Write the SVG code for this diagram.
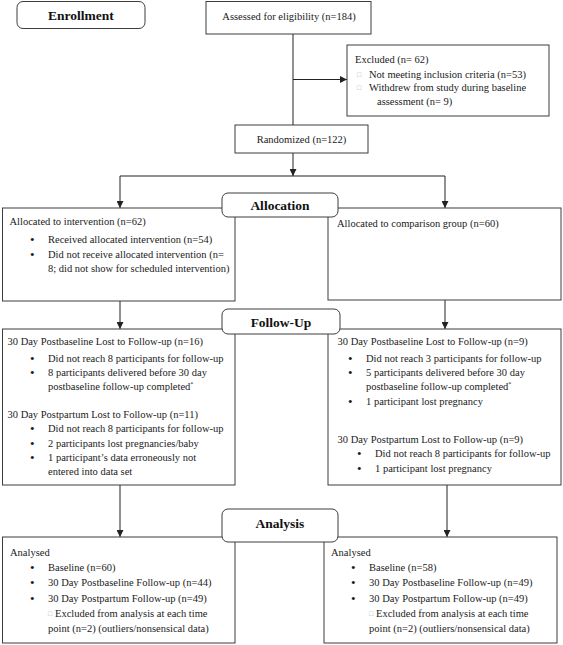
<svg xmlns="http://www.w3.org/2000/svg" width="563" height="645" viewBox="0 0 563 645">
<defs>
<marker id="arr" markerUnits="userSpaceOnUse" markerWidth="7" markerHeight="7" refX="7" refY="3.5" orient="auto">
<path d="M0,0 L7,3.5 L0,7 z" fill="#222"/>
</marker>
<style>
rect{fill:#fff;stroke:#3c3c3c;stroke-width:1}
.hd{rx:6px;ry:6px}
text{font-family:"Liberation Serif","Times New Roman",serif;font-size:10.5px;fill:#1a1a1a}
.b{font-weight:bold;font-size:13.5px;text-anchor:middle;fill:#111}
.c{text-anchor:middle}
.sq{fill:#aaa;font-size:7px}
.sup{font-size:6px}
.bu{font-size:13px}
#connectors line{stroke:#222;stroke-width:1;fill:none}
.a{marker-end:url(#arr)}
</style>
</defs>
<rect width="563" height="645" style="fill:#fff;stroke:none"/>
<g id="connectors">
<line x1="293" y1="34" x2="293" y2="125"/>
<line class="a" x1="293" y1="79.5" x2="347" y2="79.5"/>
<line class="a" x1="293" y1="153" x2="293" y2="176"/>
<line x1="120" y1="176" x2="445" y2="176"/>
<line class="a" x1="120" y1="176" x2="120" y2="208"/>
<line class="a" x1="445" y1="176" x2="445" y2="208"/>
<line class="a" x1="120" y1="301" x2="120" y2="329"/>
<line class="a" x1="445" y1="300" x2="445" y2="329"/>
<line class="a" x1="120" y1="485" x2="120" y2="537"/>
<line class="a" x1="447" y1="485" x2="447" y2="537"/>
</g>
<g id="assessed">
<rect x="206" y="1.5" width="165" height="32.5"/>
<text class="c" x="289" y="20">Assessed for eligibility (n=184)</text>
</g>
<g id="excluded">
<rect x="347" y="45" width="202" height="71"/>
<text x="355" y="63">Excluded (n= 62)</text>
<text class="sq" x="357" y="76.5">□</text>
<text x="369" y="77.5">Not meeting inclusion criteria (n=53)</text>
<text class="sq" x="357" y="90">□</text>
<text x="369" y="91">Withdrew from study during baseline</text>
<text x="377" y="105">assessment (n= 9)</text>
</g>
<g id="randomized">
<rect x="235" y="125" width="133" height="28"/>
<text class="c" x="301.5" y="143">Randomized (n=122)</text>
</g>
<g id="alloc-left">
<rect x="2.5" y="208" width="232.5" height="93"/>
<text x="9.5" y="224.5">Allocated to intervention (n=62)</text>
<text class="bu" x="30" y="244">•</text>
<text x="48" y="243">Received allocated intervention (n=54)</text>
<text class="bu" x="30" y="258.5">•</text>
<text x="48" y="257.5">Did not receive allocated intervention (n=</text>
<text x="48" y="271.5">8; did not show for scheduled intervention)</text>
</g>
<g id="alloc-right">
<rect x="328" y="208" width="233" height="92"/>
<text x="337" y="226.5">Allocated to comparison group (n=60)</text>
</g>
<g id="fu-left">
<rect x="2.5" y="329" width="232.5" height="156"/>
<text x="7.5" y="344.5">30 Day Postbaseline Lost to Follow-up (n=16)</text>
<text class="bu" x="30" y="362.5">•</text>
<text x="48" y="361.5">Did not reach 8 participants for follow-up</text>
<text class="bu" x="30" y="376.5">•</text>
<text x="48" y="375.5">8 participants delivered before 30 day</text>
<text x="48" y="390">postbaseline follow-up completed<tspan class="sup" dy="-4">*</tspan></text>
<text x="7.5" y="418">30 Day Postpartum Lost to Follow-up (n=11)</text>
<text class="bu" x="30" y="433">•</text>
<text x="48" y="432">Did not reach 8 participants for follow-up</text>
<text class="bu" x="30" y="447.5">•</text>
<text x="48" y="446.5">2 participants lost pregnancies/baby</text>
<text class="bu" x="30" y="461.5">•</text>
<text x="48" y="460.5">1 participant’s data erroneously not</text>
<text x="48" y="475">entered into data set</text>
</g>
<g id="fu-right">
<rect x="328" y="329" width="233" height="156"/>
<text x="337.5" y="344.5">30 Day Postbaseline Lost to Follow-up (n=9)</text>
<text class="bu" x="348" y="362.5">•</text>
<text x="366" y="361.5">Did not reach 3 participants for follow-up</text>
<text class="bu" x="348" y="376.5">•</text>
<text x="366" y="375.5">5 participants delivered before 30 day</text>
<text x="366" y="390">postbaseline follow-up completed<tspan class="sup" dy="-4">*</tspan></text>
<text class="bu" x="348" y="406">•</text>
<text x="366" y="405">1 participant lost pregnancy</text>
<text x="337.5" y="442.5">30 Day Postpartum Lost to Follow-up (n=9)</text>
<text class="bu" x="357" y="457.5">•</text>
<text x="375" y="456.5">Did not reach 8 participants for follow-up</text>
<text class="bu" x="357" y="472.5">•</text>
<text x="375" y="471.5">1 participant lost pregnancy</text>
</g>
<g id="an-left">
<rect x="2.5" y="537" width="232.5" height="106"/>
<text x="10" y="556">Analysed</text>
<text class="bu" x="30" y="571.5">•</text>
<text x="48" y="570.5">Baseline (n=60)</text>
<text class="bu" x="30" y="587">•</text>
<text x="48" y="586">30 Day Postbaseline Follow-up (n=44)</text>
<text class="bu" x="30" y="602.5">•</text>
<text x="48" y="601.5">30 Day Postpartum Follow-up (n=49)</text>
<text class="sq" x="48" y="616">□</text>
<text x="55" y="616.5">Excluded from analysis at each time</text>
<text x="48" y="631.5">point (n=2) (outliers/nonsensical data)</text>
</g>
<g id="an-right">
<rect x="324" y="537" width="233" height="106"/>
<text x="331" y="556">Analysed</text>
<text class="bu" x="351" y="571.5">•</text>
<text x="369" y="570.5">Baseline (n=58)</text>
<text class="bu" x="351" y="587">•</text>
<text x="369" y="586">30 Day Postbaseline Follow-up (n=49)</text>
<text class="bu" x="351" y="602.5">•</text>
<text x="369" y="601.5">30 Day Postpartum Follow-up (n=49)</text>
<text class="sq" x="369" y="616">□</text>
<text x="376" y="616.5">Excluded from analysis at each time</text>
<text x="369" y="631.5">point (n=2) (outliers/nonsensical data)</text>
</g>
<g id="enrollment">
<rect class="hd" x="17" y="1.5" width="128" height="27"/>
<text class="b" x="81" y="20">Enrollment</text>
</g>
<g id="allocation">
<rect class="hd" x="222" y="193" width="116" height="24"/>
<text class="b" x="280" y="210">Allocation</text>
</g>
<g id="follow-up">
<rect class="hd" x="222" y="309" width="118" height="25"/>
<text class="b" x="281" y="326.5">Follow-Up</text>
</g>
<g id="analysis">
<rect class="hd" x="222" y="509" width="116" height="33"/>
<text class="b" x="280" y="528">Analysis</text>
</g>
</svg>
